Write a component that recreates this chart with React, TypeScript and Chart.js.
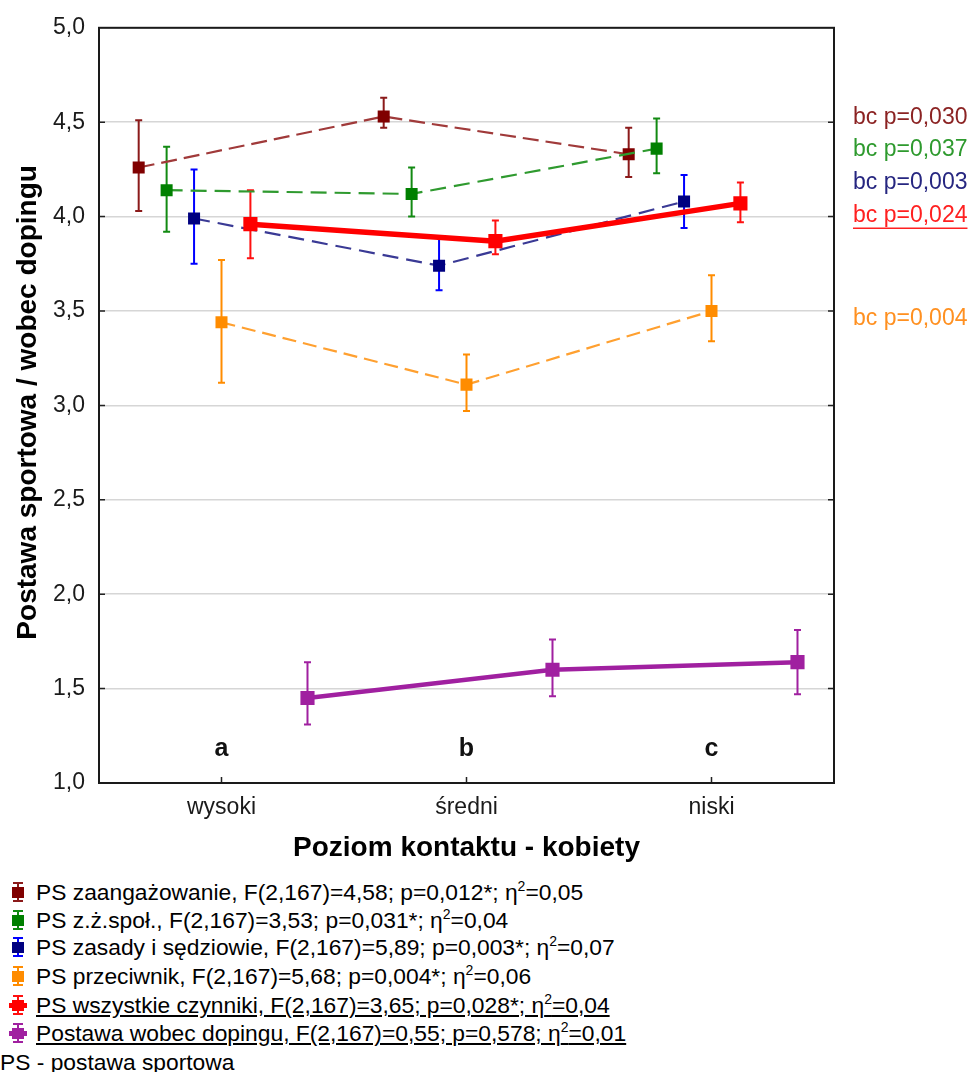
import React, { useEffect, useRef } from "react";
import { Chart, registerables } from "chart.js";

Chart.register(...registerables);

const FONT = '"Liberation Sans", Arial, sans-serif';

const categories = ["wysoki", "średni", "niski"];
const groupLetters = ["a", "b", "c"];
const letterLevel = 1.18;

const yMin = 1.0;
const yMax = 5.0;
const yStep = 0.5;

const xTitle = "Poziom kontaktu - kobiety";
const yTitle = "Postawa sportowa / wobec dopingu";

// PS zaangażowanie
const zaangMean = [4.26, 4.53, 4.33];
const zaangLow = [4.03, 4.47, 4.21];
const zaangHigh = [4.51, 4.63, 4.47];
// PS z.ż.społ.
const spolMean = [4.14, 4.12, 4.36];
const spolLow = [3.92, 4.0, 4.23];
const spolHigh = [4.37, 4.26, 4.52];
// PS zasady i sędziowie
const zasadyMean = [3.99, 3.74, 4.08];
const zasadyLow = [3.75, 3.61, 3.94];
const zasadyHigh = [4.25, 3.89, 4.22];
// PS przeciwnik
const przecMean = [3.44, 3.11, 3.5];
const przecLow = [3.12, 2.97, 3.34];
const przecHigh = [3.77, 3.27, 3.69];
// PS wszystkie czynniki
const wszystMean = [3.96, 3.87, 4.07];
const wszystLow = [3.78, 3.8, 3.97];
const wszystHigh = [4.14, 3.98, 4.18];
// Postawa wobec dopingu
const dopMean = [1.45, 1.6, 1.64];
const dopLow = [1.31, 1.46, 1.47];
const dopHigh = [1.64, 1.76, 1.81];

// right-hand post-hoc annotations
const annotTexts = ["bc p=0,030", "bc p=0,037", "bc p=0,003", "bc p=0,024", "bc p=0,004"];
const annotLevels = [4.525, 4.355, 4.18, 4.007, 3.46];
const annotColors = ["#8b2323", "#2e9a2e", "#262680", "#ff2020", "#ff9020"];
const annotUnderline = [false, false, false, true, false];

const legendTexts = [
  "PS zaangażowanie, F(2,167)=4,58; p=0,012*; η",
  "PS z.ż.społ., F(2,167)=3,53; p=0,031*; η",
  "PS zasady i sędziowie, F(2,167)=5,89; p=0,003*; η",
  "PS przeciwnik, F(2,167)=5,68; p=0,004*; η",
  "PS wszystkie czynniki, F(2,167)=3,65; p=0,028*; η",
  "Postawa wobec dopingu, F(2,167)=0,55; p=0,578; η",
];
const legendEta = ["=0,05", "=0,04", "=0,07", "=0,06", "=0,04", "=0,01"];
const legendNote = "PS - postawa sportowa";

type Series = {
  mean: number[];
  low: number[];
  high: number[];
  offset: number;
  marker: string;
  line: string;
  err: string;
  width: number;
  dash: number[];
  radius: number;
  underline: boolean;
  order: number;
};

const series: Series[] = [
  { mean: zaangMean, low: zaangLow, high: zaangHigh, offset: -0.338, marker: "#800000", line: "#a03a3a", err: "#8b1a1a", width: 2.2, dash: [16, 7], radius: 8.5, underline: false, order: 5 },
  { mean: spolMean, low: spolLow, high: spolHigh, offset: -0.224, marker: "#008000", line: "#2f9a2f", err: "#128a12", width: 2.2, dash: [16, 8], radius: 8.5, underline: false, order: 4 },
  { mean: zasadyMean, low: zasadyLow, high: zasadyHigh, offset: -0.112, marker: "#000080", line: "#3a3a95", err: "#0000ff", width: 2.2, dash: [16, 8], radius: 8.5, underline: false, order: 3 },
  { mean: przecMean, low: przecLow, high: przecHigh, offset: 0.0, marker: "#ff8c00", line: "#ffa030", err: "#ff8c00", width: 2.2, dash: [14, 7], radius: 8.5, underline: false, order: 2 },
  { mean: wszystMean, low: wszystLow, high: wszystHigh, offset: 0.118, marker: "#ff0000", line: "#ff0000", err: "#ff1010", width: 5.5, dash: [], radius: 10, underline: true, order: 0 },
  { mean: dopMean, low: dopLow, high: dopHigh, offset: 0.351, marker: "#a020a0", line: "#a020a0", err: "#a020a0", width: 4.5, dash: [], radius: 10, underline: true, order: 1 },
];

const fmt = (v: number) => v.toFixed(1).replace(".", ",");

export default function App() {
  const canvasRef = useRef<HTMLCanvasElement | null>(null);

  useEffect(() => {
    const canvas = canvasRef.current;
    if (!canvas) return;

    const errorBars = {
      id: "errorBars",
      beforeDatasetsDraw(chart: any) {
        const ctx = chart.ctx;
        const ys = chart.scales.y;
        ctx.save();
        series.forEach((s, i) => {
          const meta = chart.getDatasetMeta(i);
          meta.data.forEach((pt: any, j: number) => {
            const x = pt.x;
            const y1 = ys.getPixelForValue(s.low[j]);
            const y2 = ys.getPixelForValue(s.high[j]);
            ctx.strokeStyle = s.err;
            ctx.lineWidth = 2;
            ctx.beginPath();
            ctx.moveTo(x, y1);
            ctx.lineTo(x, y2);
            ctx.moveTo(x - 3.5, y1);
            ctx.lineTo(x + 3.5, y1);
            ctx.moveTo(x - 3.5, y2);
            ctx.lineTo(x + 3.5, y2);
            ctx.stroke();
          });
        });
        ctx.restore();
      },
    };

    const frame = {
      id: "frame",
      afterDraw(chart: any) {
        const ctx = chart.ctx;
        const a = chart.chartArea;
        const xs = chart.scales.x;
        const ys = chart.scales.y;
        ctx.save();
        // inward ticks
        ctx.strokeStyle = "#222";
        ctx.lineWidth = 1.5;
        ctx.beginPath();
        for (let v = yMin + yStep; v < yMax - 1e-6; v += yStep) {
          const y = ys.getPixelForValue(v);
          ctx.moveTo(a.left, y);
          ctx.lineTo(a.left + 6, y);
          ctx.moveTo(a.right, y);
          ctx.lineTo(a.right - 6, y);
        }
        categories.forEach((_, i) => {
          const x = xs.getPixelForValue(i);
          ctx.moveTo(x, a.bottom);
          ctx.lineTo(x, a.bottom - 6);
        });
        ctx.stroke();
        // frame
        ctx.lineWidth = 2;
        ctx.strokeStyle = "#1a1a1a";
        ctx.strokeRect(a.left, a.top, a.right - a.left, a.bottom - a.top);

        // group letters
        ctx.fillStyle = "#111";
        ctx.font = `bold 25px ${FONT}`;
        ctx.textAlign = "center";
        ctx.textBaseline = "middle";
        groupLetters.forEach((t, i) => {
          ctx.fillText(t, xs.getPixelForValue(i), ys.getPixelForValue(letterLevel));
        });

        // annotations
        ctx.font = `23px ${FONT}`;
        ctx.textAlign = "left";
        annotTexts.forEach((t, i) => {
          const y = ys.getPixelForValue(annotLevels[i]);
          ctx.fillStyle = annotColors[i];
          ctx.fillText(t, a.right + 19, y);
          if (annotUnderline[i]) {
            const w = ctx.measureText(t).width;
            ctx.strokeStyle = annotColors[i];
            ctx.lineWidth = 1.5;
            ctx.beginPath();
            ctx.moveTo(a.right + 19, y + 13);
            ctx.lineTo(a.right + 19 + w, y + 13);
            ctx.stroke();
          }
        });

        // axis titles
        ctx.fillStyle = "#000";
        ctx.font = `bold 28px ${FONT}`;
        ctx.textAlign = "center";
        ctx.fillText(xTitle, (a.left + a.right) / 2, 848);
        ctx.save();
        ctx.translate(28, (a.top + a.bottom) / 2 - 3);
        ctx.rotate(-Math.PI / 2);
        ctx.fillText(yTitle, 0, 0);
        ctx.restore();
        ctx.restore();
      },
    };

    const chart = new Chart(canvas, {
      type: "line",
      data: {
        datasets: series.map((s) => ({
          data: s.mean.map((v, j) => ({ x: j + s.offset, y: v })),
          borderColor: s.line,
          backgroundColor: s.marker,
          borderWidth: s.width,
          borderDash: s.dash,
          pointStyle: "rect",
          pointRadius: s.radius,
          pointBorderWidth: 0,
          pointBackgroundColor: s.marker,
          pointBorderColor: s.marker,
          fill: false,
          tension: 0,
          order: s.order,
        })),
      },
      options: {
        animation: false,
        responsive: false,
        devicePixelRatio: 1,
        layout: { padding: { left: 0, right: 138, top: 23, bottom: 0 } },
        plugins: { legend: { display: false }, tooltip: { enabled: false } },
        scales: {
          x: {
            type: "linear",
            min: -0.5,
            max: 2.5,
            afterBuildTicks: (scale: any) => {
              scale.ticks = categories.map((_, i) => ({ value: i }));
            },
            afterFit: (scale: any) => {
              scale.height = 92;
            },
            grid: { display: false, drawTicks: false },
            border: { display: false },
            ticks: {
              padding: 11,
              color: "#1a1a1a",
              font: { family: FONT, size: 23 },
              callback: (v: any) => categories[Math.round(Number(v))] ?? "",
            },
          },
          y: {
            min: yMin,
            max: yMax,
            afterBuildTicks: (scale: any) => {
              const t: any[] = [];
              for (let v = yMin; v <= yMax + 1e-6; v += yStep) t.push({ value: Math.round(v * 10) / 10 });
              scale.ticks = t;
            },
            afterFit: (scale: any) => {
              scale.width = 99;
            },
            grid: { color: "#d6d6d6", lineWidth: 1.5, drawTicks: false },
            border: { display: false },
            ticks: {
              padding: 14,
              color: "#1a1a1a",
              font: { family: FONT, size: 23 },
              callback: (v: any) => fmt(Number(v)),
            },
          },
        },
      },
      plugins: [errorBars, frame],
    } as any);

    return () => chart.destroy();
  }, []);

  const rowTops = [892, 920, 947, 976, 1005, 1033];

  return (
    <div style={{ position: "absolute", left: 0, top: 0, width: 972, height: 1072, background: "#fff", fontFamily: FONT }}>
      <canvas ref={canvasRef} width={972} height={875} style={{ position: "absolute", left: 0, top: 0, width: 972, height: 875 }} />
      {series.map((s, i) => (
        <div key={i} style={{ position: "absolute", left: 0, top: rowTops[i] - 14, height: 28, width: 972 }}>
          <div style={{ position: "absolute", left: 17, top: 4, width: 2, height: 20, background: s.err }} />
          <div style={{ position: "absolute", left: 13, top: 4, width: 10, height: 2, background: s.err }} />
          <div style={{ position: "absolute", left: 13, top: 22, width: 10, height: 2, background: s.err }} />
          {s.underline && <div style={{ position: "absolute", left: 9, top: 12, width: 18, height: 5, background: s.marker }} />}
          <div style={{ position: "absolute", left: 12, top: 9, width: 12, height: 11, background: s.marker }} />
          <div
            style={{
              position: "absolute",
              left: 36,
              top: 0,
              fontSize: 22.8,
              lineHeight: "28px",
              color: "#000",
              whiteSpace: "nowrap",
              textDecoration: s.underline ? "underline" : "none",
            }}
          >
            {legendTexts[i]}
            <sup style={{ fontSize: 14, lineHeight: 0, verticalAlign: "9px" }}>2</sup>
            {legendEta[i]}
          </div>
        </div>
      ))}
      <div style={{ position: "absolute", left: 0, top: 1062 - 14, fontSize: 22.8, lineHeight: "28px", color: "#000", whiteSpace: "nowrap" }}>
        {legendNote}
      </div>
    </div>
  );
}
